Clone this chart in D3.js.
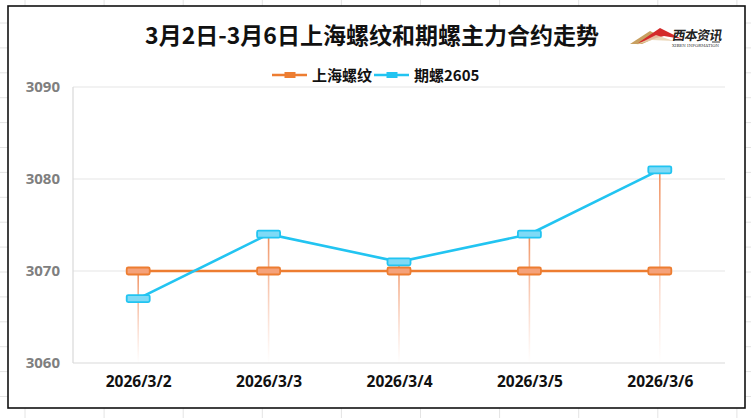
<!DOCTYPE html>
<html><head><meta charset="utf-8">
<script src="https://cdn.jsdelivr.net/npm/d3@7/dist/d3.min.js"></script>
<style>body{margin:0;background:#fff}svg{display:block}</style>
</head><body>
<svg id="c" width="751" height="418"></svg>
<script>
const categories = ["2026/3/2","2026/3/3","2026/3/4","2026/3/5","2026/3/6"];
const shRebar = [3070,3070,3070,3070,3070];
const futures2605 = [3067,3074,3071,3074,3081];
const yTicks = [3060,3070,3080,3090];
const seriesNames = ["上海螺纹","期螺2605"];
const title = "3月2日-3月6日上海螺纹和期螺主力合约走势";

const svg = d3.select("#c");
const W=751,H=418;
const cjk = "'Noto Sans CJK SC','Microsoft YaHei',sans-serif";
const num = "'Open Sans','Noto Sans',sans-serif";

// sheet gridlines outside frame
const g0 = svg.append("g").attr("stroke","#e4e4e4").attr("stroke-width",1);
for(let x=25;x<W;x+=79.1) g0.append("line").attr("x1",x).attr("x2",x).attr("y1",0).attr("y2",H);
for(let y=23;y<H;y+=24.9) g0.append("line").attr("x1",0).attr("x2",W).attr("y1",y).attr("y2",y);

// frame
svg.append("rect").attr("x",8).attr("y",6).attr("width",737).attr("height",402)
  .attr("fill","#fff").attr("stroke","#111").attr("stroke-width",1.6);

const m={l:73,r:725,t:87,b:363};
const x = d3.scalePoint().domain(categories).range([m.l,m.r]).padding(0.5);
const y = d3.scaleLinear().domain([3060,3090]).range([m.b,m.t]);

// gridlines
svg.append("g").selectAll("line").data(yTicks.slice(1)).join("line")
  .attr("x1",m.l).attr("x2",m.r).attr("y1",d=>y(d)).attr("y2",d=>y(d))
  .attr("stroke","#e6e6e6").attr("stroke-width",1.2);
svg.append("line").attr("x1",m.l).attr("x2",m.r).attr("y1",m.b).attr("y2",m.b).attr("stroke","#d9d9d9").attr("stroke-width",1.2);
svg.append("line").attr("x1",m.l).attr("x2",m.l).attr("y1",m.t).attr("y2",m.b).attr("stroke","#d9d9d9").attr("stroke-width",1.2);

// y axis labels
const ya = svg.append("g").attr("transform",`translate(${m.l-10},0)`)
  .call(d3.axisLeft(y).tickValues(yTicks).tickSize(0).tickFormat(d3.format("d")));
ya.select(".domain").remove();
ya.selectAll("text").attr("font-family",num).attr("font-weight","bold").attr("font-size",15).attr("fill","#7f7f7f");

// x axis labels
const xa = svg.append("g").attr("transform",`translate(0,${m.b+12})`)
  .call(d3.axisBottom(x).tickSize(0));
xa.select(".domain").remove();
xa.selectAll("text").attr("font-family",num).attr("font-weight","bold").attr("font-size",15.5).attr("fill","#111").attr("dy","0.55em");

// drop lines gradient
const defs = svg.append("defs");
const gr = defs.append("linearGradient").attr("id","drop").attr("x1",0).attr("x2",0).attr("y1",0).attr("y2",1);
gr.append("stop").attr("offset","0%").attr("stop-color","#ef8a55").attr("stop-opacity",0.95);
gr.append("stop").attr("offset","100%").attr("stop-color","#f6b096").attr("stop-opacity",0);
svg.append("g").selectAll("rect").data(categories).join("rect")
  .attr("x",d=>x(d)-0.8).attr("width",1.6)
  .attr("y",(d,i)=>y(Math.max(shRebar[i],futures2605[i])))
  .attr("height",(d,i)=>m.b-y(Math.max(shRebar[i],futures2605[i])))
  .attr("fill","url(#drop)");

const series=[{v:shRebar,c:"#ed7d31",f:"#f5a27a"},{v:futures2605,c:"#22c4f1",f:"#7fdaf6"}];
const line = d3.line().x((d,i)=>x(categories[i])).y(d=>y(d));
series.forEach(s=>{
  svg.append("path").datum(s.v).attr("d",line).attr("fill","none").attr("stroke",s.c).attr("stroke-width",2.6);
});
series.forEach(s=>{
  svg.append("g").selectAll("rect").data(s.v).join("rect")
    .attr("x",(d,i)=>x(categories[i])-11.5).attr("y",d=>y(d)-3.5)
    .attr("width",23).attr("height",7).attr("rx",1.5)
    .attr("fill",s.f).attr("stroke",s.c).attr("stroke-width",1.8);
});

// title
svg.append("text").attr("x",372).attr("y",44).attr("text-anchor","middle")
  .attr("font-family",cjk).attr("font-weight","bold").attr("font-size",23).attr("fill","#111").text(title);

// legend
const lg = svg.append("g");
const legItems=[{x:272,c:series[0].c,f:series[0].f,t:seriesNames[0]},{x:374,c:series[1].c,f:series[1].f,t:seriesNames[1]}];
legItems.forEach(it=>{
  lg.append("line").attr("x1",it.x).attr("x2",it.x+35).attr("y1",75).attr("y2",75).attr("stroke",it.c).attr("stroke-width",2.6);
  lg.append("rect").attr("x",it.x+13).attr("y",72.5).attr("width",10).attr("height",5).attr("fill",it.c).attr("stroke",it.c).attr("stroke-width",1);
  lg.append("text").attr("x",it.x+40).attr("y",80.5).attr("font-family",cjk).attr("font-weight","bold").attr("font-size",15).attr("fill","#111").text(it.t);
});

// logo
const lo = svg.append("g").attr("transform","translate(630,27)");
lo.append("path").attr("d","M0,17 L20,4 L30,9 L12,17 Z").attr("fill","#c8a060");
lo.append("path").attr("d","M8,16 L30,1 L52,12 L34,9 Z").attr("fill","#d42a2a");
lo.append("path").attr("d","M6,18 L26,8 L44,14 L22,13 Z").attr("fill","#e9d2b0").attr("opacity",0.85);
lo.append("text").attr("x",42).attr("y",13).attr("font-family",cjk).attr("font-weight","bold").attr("font-size",13).attr("fill","#222")
  .attr("transform","skewX(-10)").attr("dx",2).attr("textLength",50).text("西本资讯");
lo.append("line").attr("x1",82).attr("x2",90).attr("y1",15).attr("y2",15).attr("stroke","#333").attr("stroke-width",1);
lo.append("text").attr("x",42).attr("y",20).attr("font-family","'DejaVu Serif',serif").attr("font-size",4).attr("fill","#333").text("XIBEN INFORMATION");
</script>
</body></html>
